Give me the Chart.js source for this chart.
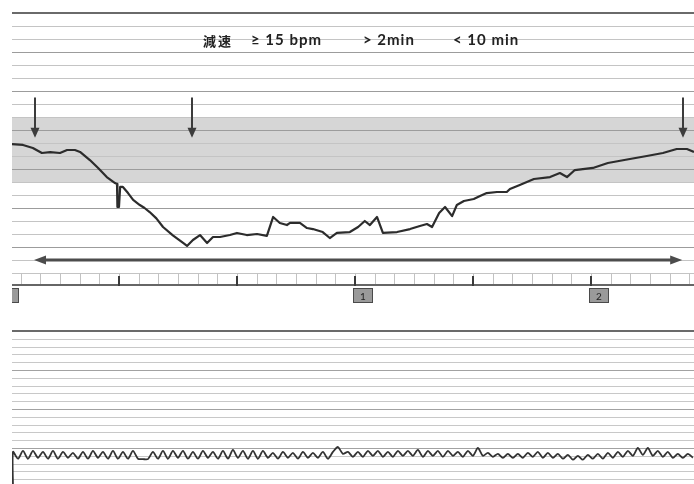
<!DOCTYPE html>
<html>
<head>
<meta charset="utf-8">
<script src="https://cdn.jsdelivr.net/npm/chart.js@4"></script>
<style>
  html, body { margin: 0; padding: 0; background: #fff; width: 694px; height: 484px; overflow: hidden; }
  #fhrBox { position: absolute; left: 0; top: 0; width: 694px; height: 310px; }
  #uaBox  { position: absolute; left: 0; top: 320px; width: 694px; height: 167px; }
  .cap { position: absolute; top: 30px; font-family: Lato, "Open Sans", sans-serif; font-size: 15px; font-weight: 700;
         color: #222; white-space: nowrap; line-height: 19px; letter-spacing: 1px; }
  .cap.cjk { font-family: "Noto Sans CJK JP", "Noto Sans CJK TC", sans-serif; font-weight: 700; font-size: 13px; letter-spacing: 2px; top: 31px; }
</style>
</head>
<body>
<div id="fhrBox"><canvas id="fhr"></canvas></div>
<div id="uaBox"><canvas id="ua"></canvas></div>
<div class="cap cjk" style="left:203px;">減速</div>
<div class="cap" style="left:251px;">≥ 15 bpm</div>
<div class="cap" style="left:363px;">&gt; 2min</div>
<div class="cap" style="left:453px;">&lt; 10 min</div>
<script>
// ---- time axis (seconds) ----
const X_MIN = 2.8;
const X_MAX = 176.2;
const majorTickStep = 30;   // dark ticks on the time strip
const minorTickStep = 5;    // small boxes on the time strip
const markerTimes  = [0, 90, 150];
const markerLabels = ['', '1', '2'];

// ---- fetal heart rate (bpm) ----
const FHR_MIN = 40;
const FHR_MAX = 240;
const normalBand = [110, 160];
const fhrTimes = [2.8,5.6,8.1,10.4,12.5,15.0,16.8,18.8,20.1,22.6,24.7,26.9,29.0,29.5,29.6,30.0,30.3,31.0,32.3,33.6,35.3,36.5,37.8,
  39.5,41.2,43.7,46.3,47.3,48.8,50.6,52.4,53.9,55.7,58.2,60.0,62.5,65.1,67.6,69.2,70.9,72.7,73.5,76.0,77.8,
  79.3,81.8,83.6,85.4,88.7,90.8,92.5,93.8,95.6,97.1,100.7,104.0,106.5,108.3,109.6,111.4,112.9,114.7,115.9,117.7,
  120.2,121.8,123.5,126.1,128.6,129.4,131.9,135.5,139.6,142.1,143.9,145.9,150.5,154.3,159.9,164.2,168.3,171.8,174.4,176.2];
const fhrBpm = [139.2,138.5,136.2,132.3,133.0,132.3,134.6,134.6,133.1,126.9,120.8,113.8,109.2,108.5,90.8,90.8,106.2,106.2,101.5,96.2,92.3,90.0,86.9,
  82.0,75.4,69.0,63.1,60.8,65.4,69.2,63.1,67.7,67.7,69.2,70.8,69.2,70.0,68.5,83.1,78.5,76.9,78.5,78.5,74.6,
  73.8,71.5,66.9,70.8,71.5,75.4,80.0,76.9,83.1,70.8,71.5,73.8,76.2,77.7,75.4,86.2,90.8,83.8,92.3,95.4,
  96.9,99.2,101.5,102.3,102.3,104.6,107.7,112.3,113.8,116.9,113.8,119.2,120.8,124.6,127.7,130.0,132.3,135.4,135.4,133.1];

// annotation arrows
const downArrowTimes = [8.6, 48.6, 173.4];
const downArrowFrom = 175;
const downArrowTo = 144;
const spanArrow = { from: 8.4, to: 173.2, bpm: 50 };

// ---- uterine activity ----
const UA_MIN = 20;
const UA_MAX = 100;
const UA_T0 = 3.05;
const UA_DT = 1.271;
const uaValues = [
  38, 34.5, 38.5, 34.5, 38.5, 35, 38, 34.5, 38.5, 34.5,
  38, 35, 37.5, 34.5, 38, 34.5, 38.5, 35, 38, 34.5,
  38.5, 34.5, 38, 34.5, 38.5, 34.5, 34.3, 34.3, 38, 34.5,
  38.5, 34.5, 38.5, 35, 38.5, 34.5, 38, 34.5, 38.5, 35,
  38, 34.5, 38.5, 34.5, 39, 35, 38.5, 34.5, 38.5, 34.5,
  38.5, 35, 37.5, 34.5, 38, 35, 37.5, 34.5, 38, 35,
  37.5, 35, 38, 34.5, 38, 40.5, 37, 38, 35.5, 38,
  35.5, 38.5, 36, 38.5, 35.5, 38, 35.5, 38.5, 36, 38.5,
  36, 39, 35.5, 38.5, 36, 38.5, 35.5, 38.5, 36, 38,
  35.5, 38.5, 36, 40, 36, 37.5, 35.5, 37, 35, 37,
  35, 37, 35, 37.5, 35.5, 38, 35, 37.5, 35, 37,
  34.5, 36.5, 34, 36, 34, 36.5, 34.5, 37, 34.5, 37.5,
  35, 38, 35.5, 38.5, 36, 40, 36.5, 40, 36, 38.5,
  35.5, 38, 35, 37, 35, 37, 35
];

// ---- drawing helpers ----
function hLine(ctx, x0, x1, y, color, w) {
  ctx.save();
  ctx.strokeStyle = color; ctx.lineWidth = w;
  const yy = w % 2 ? Math.round(y) + 0.5 : Math.round(y);
  ctx.beginPath(); ctx.moveTo(x0, yy); ctx.lineTo(x1, yy); ctx.stroke();
  ctx.restore();
}
function vLine(ctx, x, y0, y1, color, w) {
  ctx.save();
  ctx.strokeStyle = color; ctx.lineWidth = w;
  const xx = w % 2 ? Math.round(x) + 0.5 : Math.round(x);
  ctx.beginPath(); ctx.moveTo(xx, y0); ctx.lineTo(xx, y1); ctx.stroke();
  ctx.restore();
}

const fhrPaper = {
  id: 'fhrPaper',
  beforeDatasetsDraw(chart) {
    const { ctx, chartArea: a, scales: { x, y } } = chart;
    // normal range band
    const yTop = y.getPixelForValue(normalBand[1]);
    const yBot = y.getPixelForValue(normalBand[0]);
    ctx.save();
    ctx.fillStyle = '#d6d6d6';
    ctx.fillRect(a.left, yTop, a.right - a.left, yBot - yTop);
    ctx.restore();
    // 10 bpm ruling, heavier every 30 bpm
    for (let v = FHR_MIN; v <= FHR_MAX; v += 10) {
      const py = y.getPixelForValue(v);
      if (v === FHR_MAX) hLine(ctx, a.left, a.right, py, '#6a6a6a', 2);
      else if (v % 30 === 0) hLine(ctx, a.left, a.right, py, '#9c9c9c', 1);
      else hLine(ctx, a.left, a.right, py, '#c4c4c4', 1);
    }
  },
  afterDatasetsDraw(chart) {
    const { ctx, chartArea: a, scales: { x, y } } = chart;
    ctx.save();
    // downward arrows
    ctx.strokeStyle = '#3c3c3c'; ctx.fillStyle = '#3c3c3c'; ctx.lineWidth = 2;
    downArrowTimes.forEach(t => {
      const px = Math.round(x.getPixelForValue(t));
      const y0 = y.getPixelForValue(downArrowFrom);
      const y1 = y.getPixelForValue(downArrowTo);
      ctx.beginPath(); ctx.moveTo(px, y0); ctx.lineTo(px, y1 - 8); ctx.stroke();
      ctx.beginPath(); ctx.moveTo(px - 4.5, y1 - 10); ctx.lineTo(px + 4.5, y1 - 10); ctx.lineTo(px, y1); ctx.closePath(); ctx.fill();
    });
    // double-headed duration arrow
    const ay = y.getPixelForValue(spanArrow.bpm);
    const ax0 = x.getPixelForValue(spanArrow.from);
    const ax1 = x.getPixelForValue(spanArrow.to);
    ctx.strokeStyle = '#4c4c4c'; ctx.fillStyle = '#4c4c4c'; ctx.lineWidth = 3;
    ctx.beginPath(); ctx.moveTo(ax0 + 8, ay); ctx.lineTo(ax1 - 8, ay); ctx.stroke();
    ctx.beginPath(); ctx.moveTo(ax0, ay); ctx.lineTo(ax0 + 12, ay - 4.5); ctx.lineTo(ax0 + 12, ay + 4.5); ctx.closePath(); ctx.fill();
    ctx.beginPath(); ctx.moveTo(ax1, ay); ctx.lineTo(ax1 - 12, ay - 4.5); ctx.lineTo(ax1 - 12, ay + 4.5); ctx.closePath(); ctx.fill();
    ctx.restore();

    // time strip under the trace
    const sTop = a.bottom;
    const sBot = a.bottom + 12;
    ctx.save();
    ctx.beginPath(); ctx.rect(a.left, 0, a.right - a.left, chart.height); ctx.clip();
    for (let t = 0; t <= X_MAX; t += minorTickStep) {
      if (t < X_MIN) continue;
      vLine(ctx, x.getPixelForValue(t), sTop, sBot, '#c2c2c2', 1);
    }
    hLine(ctx, a.left, a.right, sBot, '#666', 2);
    for (let t = 0; t <= X_MAX; t += majorTickStep) {
      vLine(ctx, x.getPixelForValue(t), sTop + 3, sBot + 1, '#3a3a3a', 2);
    }
    // event markers
    markerTimes.forEach((t, i) => {
      const px = Math.round(x.getPixelForValue(t));
      const bx = px - 2, by = sBot + 3, bw = 20, bh = 15;
      ctx.fillStyle = '#9a9a9a';
      ctx.fillRect(bx, by, bw, bh);
      ctx.strokeStyle = '#4a4a4a'; ctx.lineWidth = 1;
      ctx.strokeRect(bx + 0.5, by + 0.5, bw - 1, bh - 1);
      if (markerLabels[i]) {
        ctx.fillStyle = '#222';
        ctx.font = '10px Lato, sans-serif';
        ctx.textAlign = 'center'; ctx.textBaseline = 'middle';
        ctx.fillText(markerLabels[i], bx + bw / 2, by + bh / 2 + 1);
      }
    });
    ctx.restore();
  }
};

const uaPaper = {
  id: 'uaPaper',
  beforeDatasetsDraw(chart) {
    const { ctx, chartArea: a, scales: { y } } = chart;
    for (let v = UA_MIN; v <= UA_MAX; v += 4) {
      const py = y.getPixelForValue(v);
      if (v === UA_MAX) hLine(ctx, a.left, a.right, py, '#6a6a6a', 2);
      else if (v % 20 === 0) hLine(ctx, a.left, a.right, py, '#a2a2a2', 1);
      else hLine(ctx, a.left, a.right, py, '#c8c8c8', 1);
    }
  }
};

const common = {
  animation: false,
  responsive: true,
  maintainAspectRatio: false,
  devicePixelRatio: 1,
  events: [],
  plugins: { legend: { display: false }, tooltip: { enabled: false } }
};

new Chart(document.getElementById('fhr'), {
  type: 'line',
  data: {
    datasets: [{
      data: fhrTimes.map((t, i) => ({ x: t, y: fhrBpm[i] })),
      borderColor: '#2c2c2c', borderWidth: 2.2, pointRadius: 0, tension: 0, fill: false,
      borderJoinStyle: 'round'
    }]
  },
  options: Object.assign({}, common, {
    layout: { padding: { left: 12, right: 0, top: 13, bottom: 37 } },
    scales: {
      x: { type: 'linear', min: X_MIN, max: X_MAX, display: false },
      y: { min: FHR_MIN, max: FHR_MAX, display: false }
    }
  }),
  plugins: [fhrPaper]
});

const uaData = [{ x: UA_T0, y: UA_MIN }].concat(uaValues.map((v, i) => ({ x: UA_T0 + i * UA_DT, y: v })));
new Chart(document.getElementById('ua'), {
  type: 'line',
  data: {
    datasets: [{
      data: uaData,
      borderColor: '#333', borderWidth: 1.8, pointRadius: 0, tension: 0.25, fill: false,
      borderJoinStyle: 'round'
    }]
  },
  options: Object.assign({}, common, {
    layout: { padding: { left: 12, right: 0, top: 11, bottom: 0 } },
    scales: {
      x: { type: 'linear', min: X_MIN, max: X_MAX, display: false },
      y: { min: UA_MIN, max: UA_MAX, display: false }
    }
  }),
  plugins: [uaPaper]
});
</script>
</body>
</html>
